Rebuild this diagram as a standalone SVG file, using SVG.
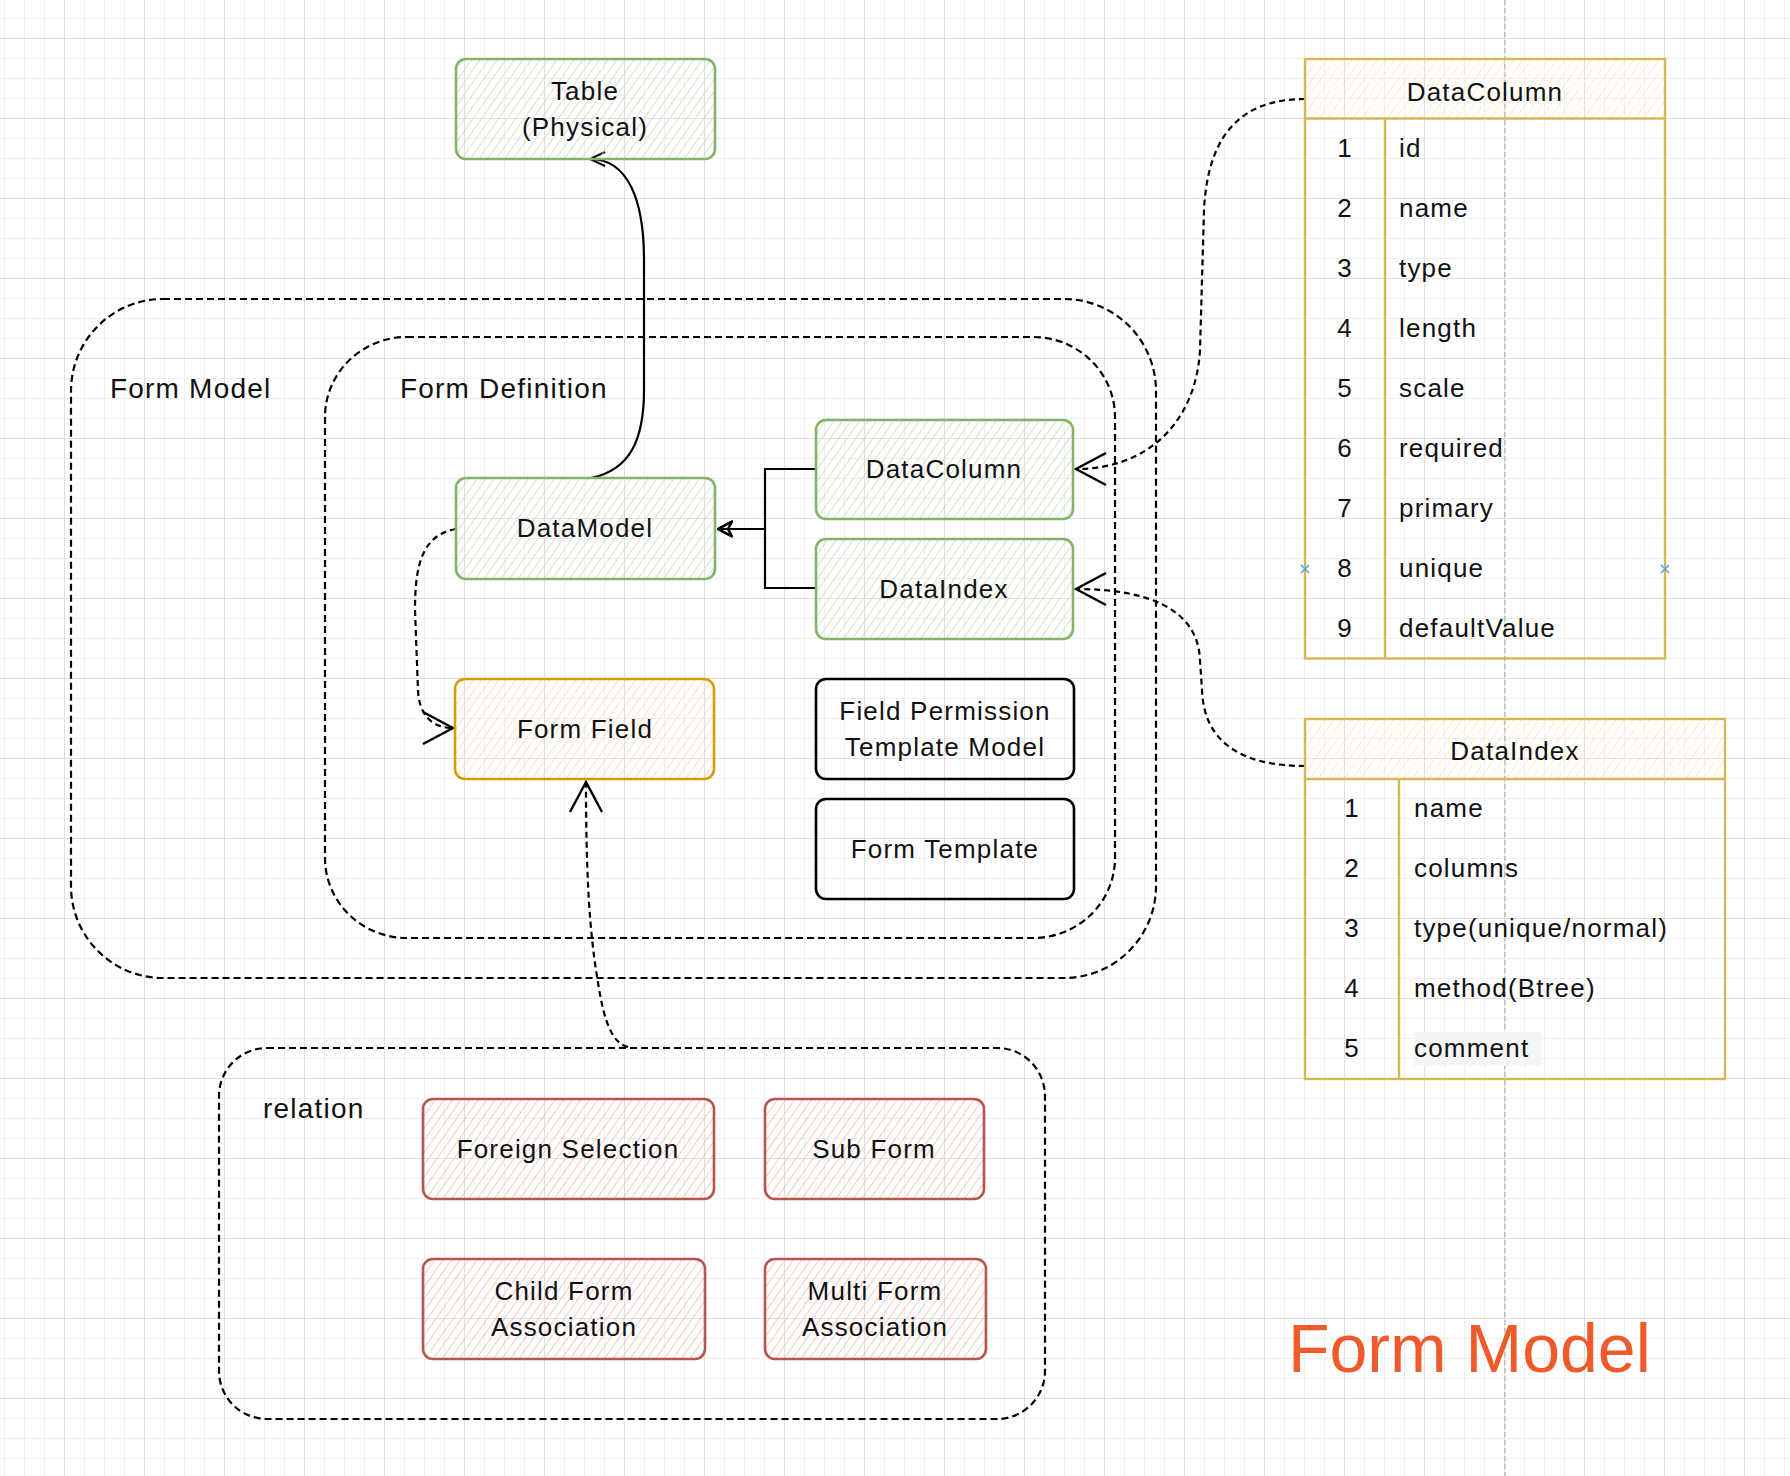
<svg xmlns="http://www.w3.org/2000/svg" width="1790" height="1476" viewBox="0 0 1790 1476">
<style>
.t{font-family:"Liberation Sans",Arial,sans-serif;font-size:26px;letter-spacing:1.2px;fill:#111}
.lbl{font-size:28px}
.c{text-anchor:middle}
.gbox{fill:url(#hG);stroke:#82b366;stroke-width:2.6}
.obox{fill:url(#hO);stroke:#d79b00;stroke-width:2.6}
.rbox{fill:url(#hR);stroke:#b85450;stroke-width:2.6}
.wbox{fill:none;stroke:#000;stroke-width:2.6}
.tbl{fill:none;stroke:#d6b656;stroke-width:2.4}
.cont{fill:none;stroke:#000;stroke-width:2.2;stroke-dasharray:7 4}
.ln{fill:none;stroke:#000;stroke-width:2.2}
.dl{fill:none;stroke:#000;stroke-width:2.2;stroke-dasharray:6 4}
</style>
<defs>
<pattern id="gMinor" patternUnits="userSpaceOnUse" x="4" y="18" width="20" height="20">
<path d="M0 0H20M0 0V20" fill="none" stroke="#efefef" stroke-width="2"/>
</pattern>
<pattern id="gMajor" patternUnits="userSpaceOnUse" x="64" y="38" width="80" height="80">
<path d="M0 0H80M0 0V80" fill="none" stroke="#d2d2d2" stroke-width="1.2"/>
</pattern>
<pattern id="hG" patternUnits="userSpaceOnUse" width="7" height="7" patternTransform="rotate(35)">
<line x1="0" y1="0" x2="0" y2="7" stroke="#c4ddbe" stroke-width="1.5"/>
</pattern>
<pattern id="hO" patternUnits="userSpaceOnUse" width="7" height="7" patternTransform="rotate(35)">
<line x1="0" y1="0" x2="0" y2="7" stroke="#fbd9b0" stroke-width="1.5"/>
</pattern>
<pattern id="hR" patternUnits="userSpaceOnUse" width="7" height="7" patternTransform="rotate(35)">
<line x1="0" y1="0" x2="0" y2="7" stroke="#efb9b5" stroke-width="1.5"/>
</pattern>
<pattern id="hY" patternUnits="userSpaceOnUse" width="7" height="7" patternTransform="rotate(35)">
<line x1="0" y1="0" x2="0" y2="7" stroke="#fae9b4" stroke-width="1.5"/>
</pattern>
<marker id="aBig" markerUnits="userSpaceOnUse" viewBox="-34 -20 38 40" refX="0" refY="0" markerWidth="38" markerHeight="40" orient="auto" overflow="visible">
<path d="M-30 -16L0 0L-30 16" fill="none" stroke="#000" stroke-width="2.4" stroke-dasharray="none"/>
</marker>
<marker id="aSmall" markerUnits="userSpaceOnUse" viewBox="-18 -10 20 20" refX="0" refY="0" markerWidth="20" markerHeight="20" orient="auto" overflow="visible">
<path d="M-15 -7L0 0L-15 7" fill="none" stroke="#000" stroke-width="2" stroke-dasharray="none"/>
</marker>
<marker id="aBlock" markerUnits="userSpaceOnUse" viewBox="-18 -10 20 20" refX="0" refY="0" markerWidth="20" markerHeight="20" orient="auto" overflow="visible">
<path d="M-14 -7.5L0 0L-14 7.5L-10 0Z" fill="none" stroke="#000" stroke-width="2.2" stroke-linejoin="round"/>
</marker>
</defs>

<rect width="1790" height="1476" fill="#ffffff"/>
<rect width="1790" height="1476" fill="url(#gMinor)"/>
<rect width="1790" height="1476" fill="url(#gMajor)"/>
<line x1="1505" y1="0" x2="1505" y2="1476" stroke="#bdbdbd" stroke-width="1.5" stroke-dasharray="5 3"/>

<g id="form-model-container">
<rect class="cont" x="71" y="299" width="1085" height="679" rx="92" ry="92"/>
<text class="t lbl" x="110" y="398">Form Model</text>
</g>
<g id="form-definition-container">
<rect class="cont" x="325" y="337" width="790" height="601" rx="82" ry="80"/>
<text class="t lbl" x="400" y="398">Form Definition</text>
</g>
<g id="relation-container">
<rect class="cont" x="219" y="1048" width="826" height="371" rx="48" ry="48"/>
<text class="t lbl" x="263" y="1118">relation</text>
</g>

<g id="connectors">
<path class="ln" d="M591 478C630 470 644 440 644 390L644 260C644 200 628 159 590 159" marker-end="url(#aSmall)"/>
<path class="ln" d="M816 469H765V529H718" marker-end="url(#aBlock)"/>
<path class="ln" d="M816 588H765V529H718" marker-end="url(#aBlock)"/>
<path class="dl" d="M1305 99C1245 99 1208 130 1204 210L1200 350C1196 420 1150 469 1076 469" marker-end="url(#aBig)"/>
<path class="dl" d="M1305 766C1245 766 1204 745 1202 690L1200 660C1198 610 1150 589 1076 589" marker-end="url(#aBig)"/>
<path class="dl" d="M456 529C422 535 415 565 415 610L418 690C419 715 432 728 453 728" marker-end="url(#aBig)"/>
<path class="dl" d="M628 1047C608 1042 602 1010 596 970C590 930 586 880 586 782" marker-end="url(#aBig)"/>
</g>

<g id="table-physical">
<rect class="gbox" x="456" y="59" width="259" height="100" rx="10"/>
<text class="t c" x="585" y="100">Table</text>
<text class="t c" x="585" y="136">(Physical)</text>
</g>
<g id="datamodel">
<rect class="gbox" x="456" y="478" width="259" height="101" rx="10"/>
<text class="t c" x="585" y="537">DataModel</text>
</g>
<g id="datacolumn">
<rect class="gbox" x="816" y="420" width="257" height="99" rx="10"/>
<text class="t c" x="944" y="478">DataColumn</text>
</g>
<g id="dataindex">
<rect class="gbox" x="816" y="539" width="257" height="100" rx="10"/>
<text class="t c" x="944" y="598">DataIndex</text>
</g>
<g id="form-field">
<rect class="obox" x="455" y="679" width="259" height="100" rx="10"/>
<text class="t c" x="585" y="738">Form Field</text>
</g>
<g id="field-permission-template-model">
<rect class="wbox" x="816" y="679" width="258" height="100" rx="10"/>
<text class="t c" x="945" y="720">Field Permission</text>
<text class="t c" x="945" y="756">Template Model</text>
</g>
<g id="form-template">
<rect class="wbox" x="816" y="799" width="258" height="100" rx="10"/>
<text class="t c" x="945" y="858">Form Template</text>
</g>
<g id="foreign-selection">
<rect class="rbox" x="423" y="1099" width="291" height="100" rx="10"/>
<text class="t c" x="568" y="1158">Foreign Selection</text>
</g>
<g id="sub-form">
<rect class="rbox" x="765" y="1099" width="219" height="100" rx="10"/>
<text class="t c" x="874" y="1158">Sub Form</text>
</g>
<g id="child-form-association">
<rect class="rbox" x="423" y="1259" width="282" height="100" rx="10"/>
<text class="t c" x="564" y="1300">Child Form</text>
<text class="t c" x="564" y="1336">Association</text>
</g>
<g id="multi-form-association">
<rect class="rbox" x="765" y="1259" width="221" height="100" rx="10"/>
<text class="t c" x="875" y="1300">Multi Form</text>
<text class="t c" x="875" y="1336">Association</text>
</g>

<g id="datacolumn-table">
<rect x="1305" y="59" width="360" height="59.5" fill="url(#hY)"/>
<rect class="tbl" x="1305" y="59" width="360" height="599.5"/>
<line class="tbl" x1="1305" y1="118.5" x2="1665" y2="118.5"/>
<line class="tbl" x1="1385" y1="118.5" x2="1385" y2="658.5"/>
<text class="t c" x="1485" y="101">DataColumn</text>
<g class="t">
<text class="c" x="1345" y="157">1</text><text x="1399" y="157">id</text>
<text class="c" x="1345" y="217">2</text><text x="1399" y="217">name</text>
<text class="c" x="1345" y="277">3</text><text x="1399" y="277">type</text>
<text class="c" x="1345" y="337">4</text><text x="1399" y="337">length</text>
<text class="c" x="1345" y="397">5</text><text x="1399" y="397">scale</text>
<text class="c" x="1345" y="457">6</text><text x="1399" y="457">required</text>
<text class="c" x="1345" y="517">7</text><text x="1399" y="517">primary</text>
<text class="c" x="1345" y="577">8</text><text x="1399" y="577">unique</text>
<text class="c" x="1345" y="637">9</text><text x="1399" y="637">defaultValue</text>
</g>
<path d="M1301 565L1309 573M1309 565L1301 573M1661 565L1669 573M1669 565L1661 573" stroke="#4aa3df" stroke-width="1.5" fill="none"/>
</g>

<g id="dataindex-table">
<rect x="1305" y="719" width="420" height="60" fill="url(#hY)"/>
<rect x="1414" y="1032" width="127" height="34" fill="#f4f5f7"/>
<rect class="tbl" x="1305" y="719" width="420" height="360"/>
<line class="tbl" x1="1305" y1="779" x2="1725" y2="779"/>
<line class="tbl" x1="1399" y1="779" x2="1399" y2="1079"/>
<text class="t c" x="1515" y="760">DataIndex</text>
<g class="t">
<text class="c" x="1352" y="817">1</text><text x="1414" y="817">name</text>
<text class="c" x="1352" y="877">2</text><text x="1414" y="877">columns</text>
<text class="c" x="1352" y="937">3</text><text x="1414" y="937">type(unique/normal)</text>
<text class="c" x="1352" y="997">4</text><text x="1414" y="997">method(Btree)</text>
<text class="c" x="1352" y="1057">5</text><text x="1414" y="1057">comment</text>
</g>
</g>

<g id="title">
<text x="1288" y="1372" font-family="Liberation Sans, Arial, sans-serif" font-size="68" fill="#ee5a2a">Form Model</text>
</g>
</svg>
